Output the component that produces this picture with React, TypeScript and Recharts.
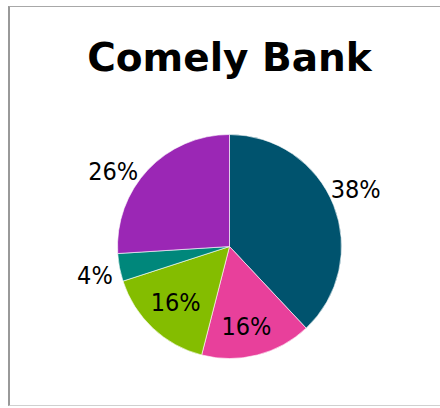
import React from 'react';
import { PieChart, Pie, Cell } from 'recharts';

const segments = ['A', 'B', 'C', 'D', 'E'];
const shares = [38, 16, 16, 4, 26];
const colors = ['#00536E', '#E8409B', '#84BD00', '#00877B', '#9B27B5'];
const insideLabel = [false, true, true, false, false];

const data = segments.map((name, i) => ({ name, value: shares[i] }));

// small nudges so outside labels sit where the original put them
const nudges: [number, number][] = [
  [-3, -6],
  [-3, 3],
  [1, -2],
  [2, 3],
  [-15, 20],
];

const RAD = Math.PI / 180;

const renderLabel = (props: any) => {
  const { cx, cy, midAngle, outerRadius, index, value } = props;
  const r = insideLabel[index] ? outerRadius - 32 : outerRadius + 27;
  const x = cx + r * Math.cos(-midAngle * RAD) + nudges[index][0];
  const y = cy + r * Math.sin(-midAngle * RAD) + nudges[index][1];
  return (
    <text
      x={x}
      y={y}
      textAnchor="middle"
      dominantBaseline="central"
      fill="#000"
      fontSize={25}
      fontFamily="'Liberation Sans Narrow', 'DejaVu Sans Condensed', sans-serif"
    >
      {`${value}%`}
    </text>
  );
};

export default function App() {
  return (
    <div
      style={{
        position: 'absolute',
        left: 8,
        top: 6,
        width: 431,
        height: 398,
        borderTop: '1px solid #a8a8a8',
        borderLeft: '2px solid #999',
        borderBottom: '1px solid #d0d0d0',
        background: '#fff',
      }}
    >
      <div
        style={{
          position: 'absolute',
          left: 0,
          top: 28,
          width: 431,
          paddingLeft: 8,
          boxSizing: 'border-box',
          textAlign: 'center',
          fontFamily: "'DejaVu Sans', sans-serif",
          fontWeight: 'bold',
          fontSize: 39,
          lineHeight: '46px',
          color: '#000',
        }}
      >
        Comely Bank
      </div>
      <div style={{ position: 'absolute', left: 0, top: 0 }}>
        <PieChart width={431} height={398} margin={{ top: 0, right: 0, bottom: 0, left: 0 }}>
          <Pie
            data={data}
            dataKey="value"
            cx={219.5}
            cy={239.5}
            outerRadius={112}
            startAngle={90}
            endAngle={-270}
            stroke="#ffffff"
            strokeWidth={0.6}
            labelLine={false}
            label={renderLabel}
            isAnimationActive={false}
          >
            {data.map((entry, i) => (
              <Cell key={entry.name} fill={colors[i]} />
            ))}
          </Pie>
        </PieChart>
      </div>
    </div>
  );
}
